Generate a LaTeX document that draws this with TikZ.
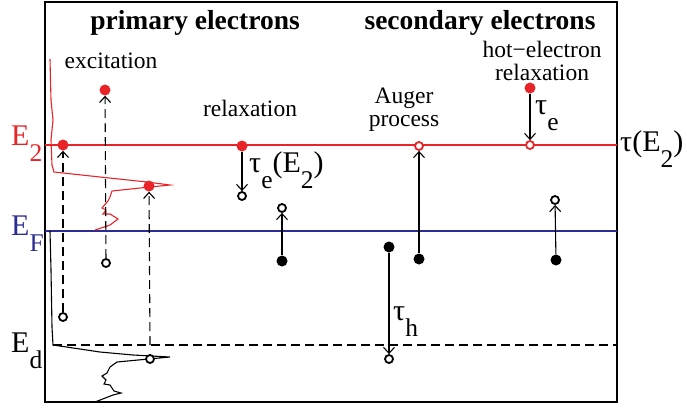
\documentclass[tikz,border=0pt]{standalone}
\usepackage{fontspec}
\setmainfont{Liberation Serif}
\usetikzlibrary{arrows.meta, positioning}
\definecolor{lvlred}{RGB}{232,36,40}
\definecolor{lvlblue}{RGB}{44,44,150}
\newcommand{\lo}[1]{\raisebox{-0.55em}{\scalebox{0.85}{#1}}}

\begin{document}
\begin{tikzpicture}[x=1pt, y=-1pt,
  edot/.style={circle, fill=black, inner sep=0pt, minimum size=11pt},
  rdot/.style={edot, fill=lvlred},
  hole/.style={circle, draw=black, line width=1.8pt, fill=white, inner sep=0pt, minimum size=8pt},
  rhole/.style={hole, draw=lvlred},
  hop/.style={line width=1.1pt, -{Straight Barb[length=6pt, width=11pt, line width=1.1pt]}},
  dhop/.style={hop, dash pattern=on 9pt off 5pt},
  lbl/.style={font=\fontsize{23.5}{23}\selectfont, inner sep=0pt, align=center},
  head/.style={font=\fontsize{27.5}{30}\selectfont\bfseries, inner sep=0pt, anchor=base},
  lvl/.style={font=\fontsize{30}{30}\selectfont, inner sep=0pt, anchor=base west}
]
  \useasboundingbox (0,0) rectangle (687,407);

  % frame and levels
  \draw[line width=1.3pt] (45,2) rectangle (617,402);
  \draw[lvlred, line width=1.2pt] (45,145) -- (617,145);
  \draw[lvlblue, line width=1.2pt] (45,231) -- (617,231);
  \draw[line width=1.3pt, dash pattern=on 9pt off 5pt] (53,345) -- (617,345);

  % spectra
  \draw[lvlred, line width=1.1pt] (50,59) -- (51,100) -- (53,120) -- (51,140) -- (52,165) -- (54,172)
    -- (100,177) -- (147,182) -- (170,185) -- (140,188) -- (112,191) -- (110,197) -- (108,201)
    -- (102,208) -- (106,210) -- (103,214) -- (110,214) -- (118,219) -- (110,225) -- (95,230);
  \draw[line width=1.1pt] (50,231) -- (51,270) -- (52,327) -- (53,345) -- (100,352) -- (133,355)
    -- (170,357) -- (117,362) -- (110,367) -- (107,373) -- (102,376) -- (106,380) -- (104,384)
    -- (110,385) -- (114,391) -- (121,393) -- (113,395) -- (95,402);

  % level labels
  \node[lvl, text=lvlred] (e2) at (11,145) {E\lo{2}};
  \node[lvl, text=lvlblue] (ef) at (11,235) {E\lo{F}};
  \node[lvl] (ed) at (11,352) {E\lo{d}};
  \node[lvl] (tau) at (620,151) {τ(E\lo{2})};

  % headings and labels
  \node[head] (prim) at (195,29) {primary electrons};
  \node[head] (sec) at (480,29) {secondary electrons};
  \node[lbl, anchor=base] (exc) at (111,68) {excitation};
  \node[lbl, anchor=base] (rel) at (250,116) {relaxation};
  \node[lbl, anchor=base] (aug) at (404,126) {Auger\\process};
  \node[lbl, anchor=base] (hot) at (542,80) {hot−electron\\relaxation};

  % primary electrons
  \node[rdot] (p1) at (63,145) {};
  \node[rdot] (p2) at (105,90) {};
  \node[rdot] (p3) at (149,186) {};
  \node[hole] (h1) at (63,317) {};
  \node[hole] (h2) at (106,263) {};
  \node[hole] (h3) at (150,359) {};
  \coordinate (c3) at (150,345);
  \draw[dhop] (h1) -- (p1);
  \draw[dhop] (h2) -- (p2);
  \draw[dhop] (c3) -- (p3);

  \node[rdot] (r1) at (242,146) {};
  \node[hole] (h4) at (242,196) {};
  \node[edot] (b1) at (282,261) {};
  \node[hole] (h5) at (282,208) {};
  \draw[hop] (r1) -- (h4);
  \draw[hop] (b1) -- (h5);
  \node[lvl] (te2) at (249,172) {τ\lo{e}(E\lo{2})};

  % secondary electrons
  \node[rhole] (rh1) at (419,146) {};
  \node[edot] (b2) at (419,259) {};
  \draw[hop] (b2) -- (rh1);
  \node[edot] (b3) at (389,247) {};
  \node[hole] (h6) at (389,359) {};
  \draw[hop] (b3) -- (h6);
  \node[lvl] (th) at (393,320) {τ\lo{h}};

  \node[rdot] (r2) at (530,88) {};
  \node[rhole] (rh2) at (530,145) {};
  \draw[hop] (r2) -- (rh2);
  \node[lvl] (te) at (535,114) {τ\lo{e}};
  \node[edot] (b4) at (556,260) {};
  \node[hole] (h7) at (555,200) {};
  \draw[hop] (b4) -- (h7);
\end{tikzpicture}
\end{document}
